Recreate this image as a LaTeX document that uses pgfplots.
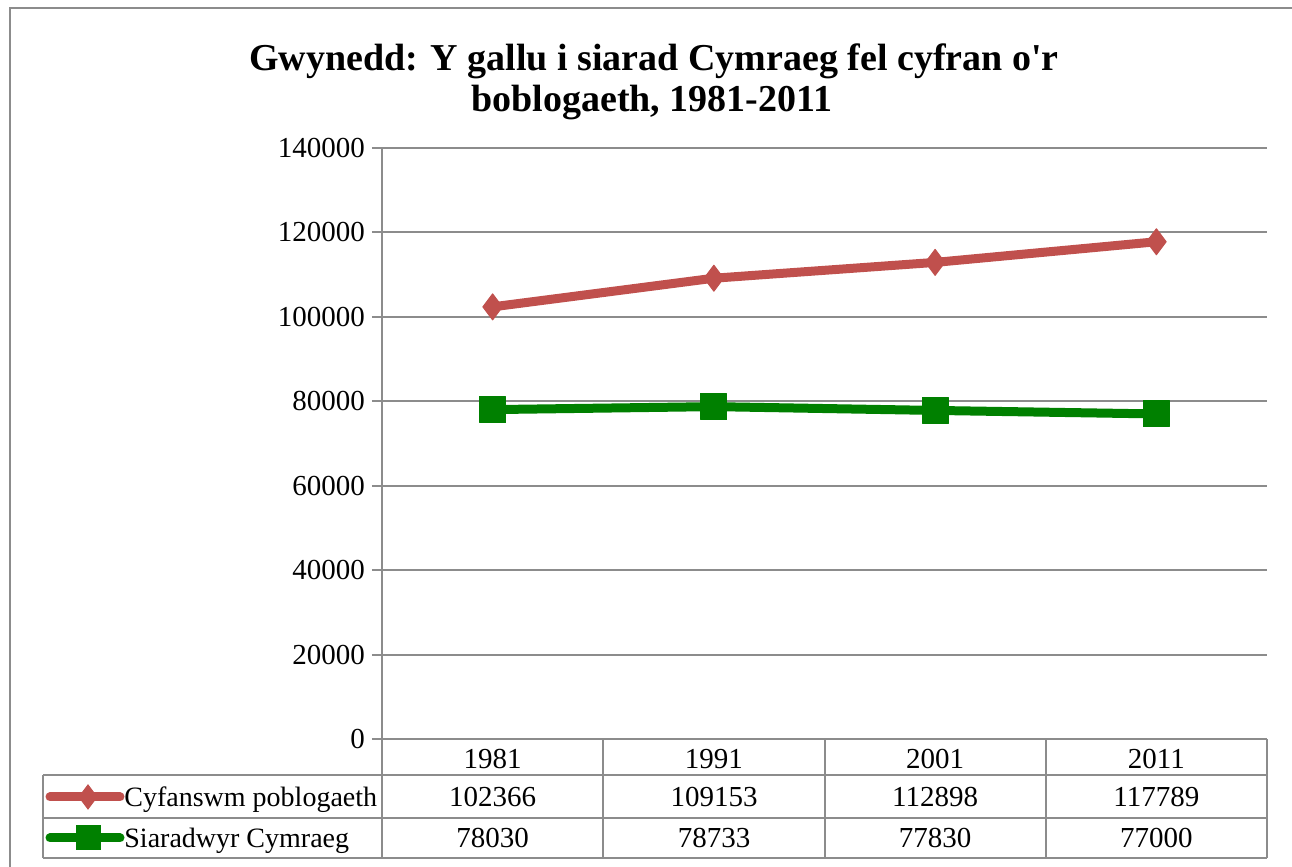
\documentclass[border=0pt]{standalone}
\usepackage{pgfplots}
\pgfplotsset{compat=1.18}
\usepackage{fontspec}
\setmainfont{Liberation Serif}
\definecolor{redline}{HTML}{C0504D}
\definecolor{greenline}{HTML}{008000}
\definecolor{gridgray}{HTML}{8C8C8C}
\begin{document}
\begin{tikzpicture}[x=1pt,y=1pt]
\path[use as bounding box] (0,0) rectangle (646,433.5);
\draw[gridgray, line width=1pt] (5,-5) rectangle (660,429.5);
% title
\node[anchor=base, font=\fontsize{19}{24}\selectfont\bfseries] at (327,398) {Gwynedd: Y gallu i siarad Cymraeg fel cyfran o\textquotesingle r};
\node[anchor=base, font=\fontsize{19}{24}\selectfont\bfseries] at (326,377.5) {boblogaeth, 1981-2011};

\begin{axis}[
  at={(191pt,64pt)}, anchor=south west,
  scale only axis, width=442.5pt, height=295.5pt,
  xmin=-0.5, xmax=3.5, ymin=0, ymax=140000,
  xtick={0,1,2,3}, xticklabels={1981,1991,2001,2011},
  ytick={0,20000,...,140000},
  scaled y ticks=false,
  axis x line*=bottom, axis y line*=left,
  axis line style={gridgray, line width=1pt},
  ymajorgrids, grid style={gridgray, line width=1pt},
  tick align=outside, major tick length=5pt,
  xtick style={draw=none},
  ytick style={gridgray, line width=1pt},
  tick label style={font=\fontsize{14.5}{17}\selectfont},
  yticklabel style={/pgf/number format/.cd, fixed, 1000 sep={}, assume math mode=true},
  xticklabel style={anchor=base, yshift=-10pt},
  clip=false,
]
\addplot[redline, line width=4.5pt, line join=round,
  mark=diamond*, mark size=6.5pt, mark options={line width=0.5pt, solid, fill=redline}]
  coordinates {(0,102366) (1,109153) (2,112898) (3,117789)};
\addplot[greenline, line width=4.5pt, line join=round,
  mark=square*, mark size=6.5pt, mark options={line width=0.5pt, solid, fill=greenline}]
  coordinates {(0,78030) (1,78733) (2,77830) (3,77000)};
\end{axis}

% data table
\draw[gridgray, line width=1pt]
  (21.5,46) -- (633.5,46)
  (21.5,24.5) -- (633.5,24.5)
  (21.5,4.5) -- (633.5,4.5)
  (21.5,4.5) -- (21.5,46)
  (191,4.5) -- (191,64)
  (301.6,4.5) -- (301.6,64)
  (412.25,4.5) -- (412.25,64)
  (522.9,4.5) -- (522.9,64)
  (633.5,4.5) -- (633.5,64);
\begin{scope}[every node/.style={anchor=base, font=\fontsize{14.5}{17}\selectfont}]
\node at (246.3,30) {102366};
\node at (357,30) {109153};
\node at (467.6,30) {112898};
\node at (578.2,30) {117789};
\node at (246.3,9.5) {78030};
\node at (357,9.5) {78733};
\node at (467.6,9.5) {77830};
\node at (578.2,9.5) {77000};
\node[anchor=base west, inner sep=0pt, font=\fontsize{14}{17}\selectfont] at (62,30) {Cyfanswm poblogaeth};
\node[anchor=base west, inner sep=0pt, font=\fontsize{14}{17}\selectfont] at (62,9.5) {Siaradwyr Cymraeg};
\end{scope}
% legend keys
\draw[redline, line width=4.5pt, line cap=round] (25,35) -- (60,35);
\draw[redline, line width=0.5pt, mark size=6pt] plot[mark=diamond*, mark options={fill=redline}] coordinates {(44,35)};
\draw[greenline, line width=4.5pt, line cap=round] (25,14.5) -- (60,14.5);
\draw[greenline, line width=0.5pt, mark size=6pt] plot[mark=square*, mark options={fill=greenline}] coordinates {(44,14.5)};
\end{tikzpicture}
\end{document}
